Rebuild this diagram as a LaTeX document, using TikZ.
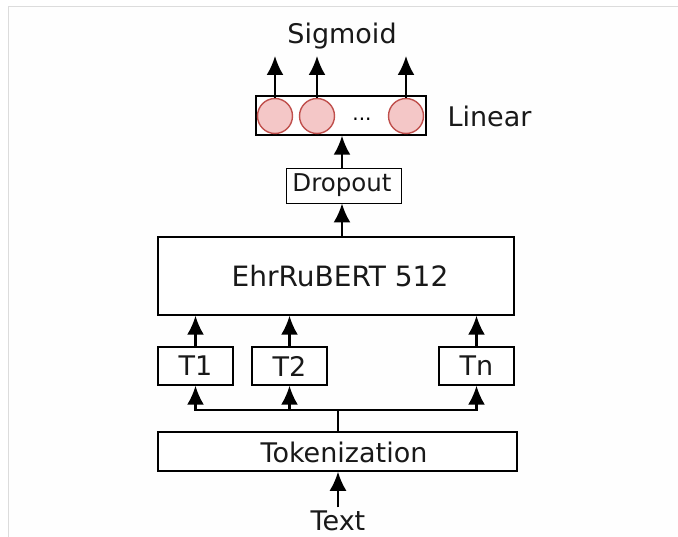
\documentclass[tikz,border=0pt]{standalone}
\usepackage{fontspec}
\setmainfont{DejaVu Sans}
\usetikzlibrary{arrows.meta}
\definecolor{neuronfill}{HTML}{F4C7C7}
\definecolor{neurondraw}{HTML}{C0504D}
\definecolor{framegray}{HTML}{DCDCDC}
\begin{document}
\begin{tikzpicture}[x=1pt,y=-1pt,
  box/.style={draw=black,line width=1.5pt,fill=white,inner sep=0pt},
  lbl/.style={font=\fontsize{27}{31}\selectfont,text=black!90},
  arr/.style={line width=2.2pt,-{Latex[length=19pt,width=17pt]}},
  ln/.style={line width=2.2pt},
  neuron/.style={circle,draw=neurondraw,fill=neuronfill,line width=1.4pt,minimum size=35pt,inner sep=0pt}]
\useasboundingbox (0,0) rectangle (678,537);
\fill[white] (0,0) rectangle (678,537);
\fill[black!0.5] (8,7) rectangle (678,537);
\draw[framegray,line width=1pt] (8,537) -- (8,7) -- (678,7);
% boxes
\node[box,minimum width=170pt,minimum height=39pt] (lin) at (341,115.5) {};
\node[neuron] (n1) at (275,116) {};
\node[neuron] (n2) at (317,116) {};
\node[neuron] (n3) at (406,116) {};
\node[font=\fontsize{20}{22}\selectfont,anchor=base] (dots) at (362,121) {...};
\node[lbl,anchor=west] (linlbl) at (444,116) {Linear};
\node[lbl] (sig) at (342,36) {Sigmoid};
\coordinate (s1) at (275,56);
\coordinate (s2) at (317,56);
\coordinate (s3) at (406,56);
\node[box,minimum width=115pt,minimum height=35pt,line width=0.9pt] (drop) at (343.5,185.5) {};
\node[lbl,font=\fontsize{24.5}{28}\selectfont] (droplbl) at (342,185.5) {Dropout};
\node[box,minimum width=356pt,minimum height=78pt] (bert) at (336,276) {};
\node[lbl,font=\fontsize{28}{32}\selectfont] (bertlbl) at (340,276) {EhrRuBERT 512};
\node[box,minimum width=75pt,minimum height=38pt] (t1) at (195.5,366) {};
\node[lbl] at (t1) {T1};
\node[box,minimum width=75pt,minimum height=38pt] (t2) at (289.5,366) {};
\node[lbl] at (t2) {T2};
\node[box,minimum width=75pt,minimum height=38pt] (tn) at (476.5,366) {};
\node[lbl] at (tn) {Tn};
\node[box,minimum width=359pt,minimum height=39pt] (tok) at (337.5,451.5) {};
\node[lbl] (toklbl) at (344,452) {Tokenization};
\node[lbl] (txt) at (338,521) {Text};
% connectors
\draw[arr] (n1.north) -- (s1);
\draw[arr] (n2.north) -- (s2);
\draw[arr] (n3.north) -- (s3);
\draw[arr] (drop.north -| 342,0) -- (lin.south -| 342,0);
\draw[arr] (bert.north -| 342,0) -- (drop.south -| 342,0);
\draw[arr] (t1.north) -- (t1.north |- bert.south);
\draw[arr] (t2.north) -- (t2.north |- bert.south);
\draw[arr] (tn.north) -- (tn.north |- bert.south);
\coordinate (bus) at (338,410);
\draw[ln] (tok.north -| bus) -- (bus);
\draw[arr] (bus) -| (t1.south);
\draw[arr] (bus) -| (t2.south);
\draw[arr] (bus) -| (tn.south);
\draw[arr] (txt.north -| bus) -- (tok.south -| bus);
\end{tikzpicture}
\end{document}
